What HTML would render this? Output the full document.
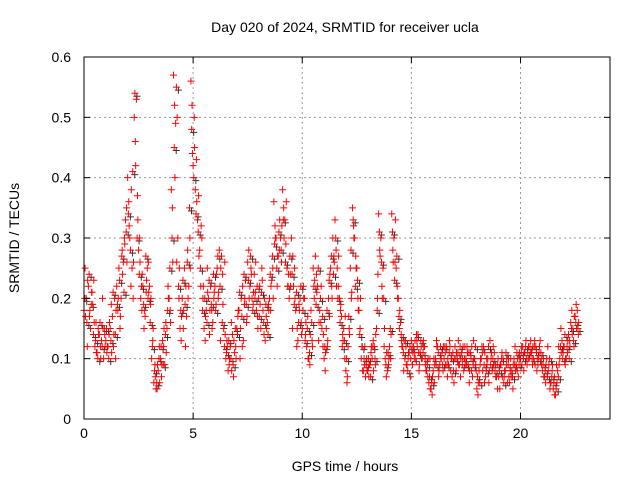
<!DOCTYPE html>
<html><head><meta charset="utf-8"><style>
html,body{margin:0;padding:0;background:#fff;}
svg{display:block;font-family:"Liberation Sans",sans-serif;}
</style></head><body>
<svg id="chart" width="640" height="480" viewBox="0 0 640 480">
<rect x="0" y="0" width="640" height="480" fill="#fff"/>
<text x="345" y="32" text-anchor="middle" font-size="14">Day 020 of 2024, SRMTID for receiver ucla</text>
<text x="345" y="471" text-anchor="middle" font-size="14">GPS time / hours</text>
<text transform="translate(19,238) rotate(-90)" text-anchor="middle" font-size="14">SRMTID / TECUs</text>
<g id="grid"></g><g id="marks"></g>
<rect x="84" y="57" width="526" height="362" fill="none" stroke="#000" stroke-width="1"/>
<g id="ticks"></g>
</svg>
<script>
const xTicks=[0,5,10,15,20];
const yTicks=[0,0.1,0.2,0.3,0.4,0.5,0.6];
const yTickLabels=["0","0.1","0.2","0.3","0.4","0.5","0.6"];
const hourStep=0.1;
const tecA=[0.18,0.2,0.22,0.15,0.19,0.12,0.11,0.14,0.13,0.1,0.13,0.12,0.15,0.17,0.2,0.22,0.25,0.2,0.26,0.33,
0.4,0.3,0.25,0.5,0.53,0.28,0.2,0.22,0.17,0.25,0.22,0.1,0.06,0.05,0.08,0.1,0.13,0.09,0.15,0.2,
0.38,0.57,0.49,0.3,0.15,0.2,0.25,0.17,0.22,0.56,0.42,0.38,0.33,0.28,0.3,0.15,0.18,0.2,0.22,0.16,
0.22,0.25,0.28,0.27,0.15,0.1,0.08,0.12,0.14,0.11,0.15,0.18,0.2,0.13,0.23,0.26,0.22,0.2,0.24,0.18,
0.2,0.15,0.18,0.13,0.16,0.2,0.23,0.36,0.3,0.27,0.3,0.38,0.33,0.25,0.2,0.3,0.22,0.18,0.13,0.2,
0.15,0.2,0.12,0.1,0.18,0.25,0.27,0.22,0.18,0.15,0.1,0.15,0.2,0.25,0.3,0.33,0.25,0.2,0.17,0.15,
0.08,0.12,0.25,0.35,0.3,0.25,0.18,0.1,0.08,0.07,0.08,0.09,0.1,0.12,0.15,0.34,0.3,0.25,0.1,0.08,
0.12,0.34,0.3,0.25,0.2,0.16,0.12,0.1,0.09,0.11,0.13,0.12,0.1,0.14,0.11,0.1,0.12,0.08,0.06,0.05,
0.08,0.1,0.12,0.09,0.11,0.1,0.12,0.09,0.08,0.11,0.12,0.1,0.09,0.11,0.08,0.1,0.09,0.11,0.07,0.1,
0.05,0.08,0.1,0.12,0.07,0.1,0.13,0.08,0.11,0.07,0.07,0.09,0.1,0.08,0.06,0.06,0.08,0.1,0.09,0.07,
0.1,0.12,0.11,0.09,0.1,0.11,0.1,0.12,0.09,0.13,0.08,0.07,0.1,0.09,0.06,0.05,0.04,0.08,0.1,0.13,
0.12,0.1,0.14,0.16,0.15,0.17,0.18];
const tecB=[0.25,0.12,0.17,0.21,0.23,0.16,0.15,0.12,0.2,0.14,0.11,0.14,0.19,0.12,0.1,0.18,0.15,0.28,0.3,0.35,
0.36,0.22,0.2,0.46,0.37,0.3,0.18,0.15,0.21,0.26,0.19,0.13,0.09,0.05,0.12,0.07,0.12,0.16,0.22,0.18,
0.35,0.52,0.26,0.2,0.13,0.15,0.12,0.28,0.3,0.52,0.5,0.43,0.37,0.22,0.2,0.13,0.25,0.14,0.18,0.2,
0.19,0.2,0.13,0.24,0.26,0.13,0.09,0.16,0.07,0.12,0.17,0.1,0.12,0.19,0.16,0.28,0.25,0.19,0.21,0.17,
0.22,0.25,0.14,0.17,0.19,0.18,0.25,0.32,0.22,0.28,0.26,0.35,0.29,0.22,0.24,0.15,0.25,0.12,0.19,0.16,
0.22,0.14,0.17,0.09,0.13,0.2,0.24,0.13,0.16,0.12,0.08,0.12,0.17,0.22,0.27,0.28,0.22,0.18,0.14,0.1,
0.06,0.15,0.2,0.32,0.27,0.2,0.15,0.12,0.09,0.1,0.07,0.11,0.13,0.09,0.2,0.28,0.22,0.12,0.07,0.09,
0.1,0.28,0.26,0.22,0.15,0.13,0.08,0.12,0.1,0.07,0.09,0.11,0.13,0.08,0.12,0.13,0.09,0.07,0.1,0.04,
0.06,0.13,0.07,0.1,0.08,0.11,0.07,0.13,0.1,0.06,0.08,0.13,0.07,0.1,0.12,0.12,0.06,0.08,0.13,0.09,
0.04,0.09,0.11,0.06,0.1,0.06,0.1,0.12,0.09,0.05,0.05,0.11,0.07,0.09,0.1,0.1,0.05,0.12,0.08,0.11,
0.12,0.08,0.13,0.1,0.11,0.09,0.13,0.08,0.11,0.1,0.1,0.06,0.12,0.05,0.08,0.07,0.09,0.12,0.15,0.11,
0.09,0.11,0.13,0.18,0.12,0.19,0.14];
const tecC=[0.2,0.16,0.24,0.19,0.14,0.13,0.1,0.16,0.12,0.15,0.15,0.1,0.13,0.21,0.14,0.19,0.23,0.27,0.21,0.31,
0.34,0.28,0.41,0.54,0.3,0.24,0.22,0.19,0.27,0.2,0.16,0.12,0.08,0.06,0.1,0.12,0.09,0.14,0.18,0.25,
0.3,0.45,0.55,0.22,0.18,0.23,0.19,0.26,0.35,0.48,0.4,0.34,0.31,0.25,0.18,0.2,0.16,0.23,0.19,0.24,
0.18,0.27,0.22,0.16,0.12,0.11,0.13,0.1,0.09,0.15,0.14,0.21,0.17,0.24,0.19,0.23,0.27,0.18,0.2,0.22,
0.17,0.21,0.16,0.19,0.14,0.24,0.27,0.29,0.25,0.31,0.28,0.33,0.26,0.22,0.27,0.24,0.19,0.21,0.16,0.22,
0.18,0.13,0.15,0.11,0.16,0.22,0.19,0.25,0.2,0.17,0.12,0.18,0.23,0.27,0.24,0.3,0.2,0.16,0.12,0.13,
0.1,0.17,0.28,0.33,0.22,0.23,0.14,0.12,0.1,0.09,0.1,0.07,0.12,0.1,0.18,0.31,0.26,0.2,0.09,0.11,
0.15,0.31,0.23,0.27,0.17,0.14,0.11,0.13,0.08,0.12,0.12,0.1,0.14,0.11,0.13,0.11,0.1,0.09,0.07,0.06,
0.1,0.09,0.11,0.12,0.09,0.12,0.09,0.11,0.1,0.08,0.1,0.11,0.12,0.09,0.1,0.09,0.11,0.1,0.09,0.12,
0.07,0.06,0.12,0.09,0.08,0.12,0.09,0.1,0.08,0.09,0.08,0.1,0.06,0.11,0.09,0.08,0.07,0.09,0.11,0.09,
0.11,0.1,0.12,0.11,0.12,0.1,0.12,0.11,0.1,0.11,0.09,0.08,0.07,0.1,0.07,0.06,0.05,0.07,0.12,0.1,
0.14,0.12,0.1,0.15,0.13,0.16,0.15];
const tecD=[0.17,0.23,0.18,0.21,0.16,0.11,0.14,0.1,0.15,0.12,0.12,0.16,0.11,0.14,0.18,0.2,0.17,0.24,0.29,0.26,
0.32,0.38,0.26,0.42,0.33,0.26,0.24,0.18,0.23,0.21,0.2,0.15,0.07,0.09,0.06,0.09,0.15,0.11,0.2,0.16,
0.26,0.4,0.5,0.25,0.17,0.18,0.22,0.2,0.25,0.44,0.45,0.36,0.27,0.32,0.22,0.17,0.21,0.18,0.15,0.21,
0.24,0.21,0.25,0.19,0.14,0.12,0.1,0.08,0.13,0.1,0.18,0.15,0.22,0.2,0.17,0.2,0.24,0.21,0.26,0.15,
0.19,0.23,0.2,0.15,0.18,0.22,0.2,0.3,0.27,0.33,0.32,0.3,0.36,0.24,0.22,0.27,0.2,0.15,0.18,0.14,
0.2,0.16,0.1,0.14,0.12,0.23,0.21,0.16,0.22,0.14,0.11,0.13,0.24,0.2,0.26,0.22,0.27,0.19,0.13,0.17,
0.07,0.14,0.21,0.3,0.25,0.18,0.2,0.08,0.12,0.08,0.09,0.12,0.08,0.14,0.24,0.27,0.2,0.15,0.11,0.1,
0.14,0.26,0.33,0.2,0.18,0.12,0.13,0.09,0.11,0.1,0.11,0.13,0.12,0.09,0.1,0.12,0.08,0.1,0.05,0.07,
0.09,0.12,0.08,0.1,0.12,0.09,0.1,0.12,0.07,0.1,0.11,0.09,0.1,0.12,0.09,0.11,0.08,0.12,0.1,0.08,
0.06,0.1,0.08,0.11,0.09,0.08,0.11,0.09,0.07,0.1,0.09,0.07,0.08,0.1,0.07,0.07,0.09,0.08,0.1,0.1,
0.09,0.11,0.1,0.12,0.13,0.12,0.09,0.1,0.12,0.09,0.07,0.09,0.08,0.06,0.09,0.04,0.06,0.09,0.11,0.12,
0.1,0.13,0.12,0.14,0.17,0.15,0.16];
const NS="http://www.w3.org/2000/svg";
const X=h=>84+h*(526/24.1);
const Y=v=>419-v*(362/0.6);
function mk(tag,attrs,parent){const e=document.createElementNS(NS,tag);for(const k in attrs)e.setAttribute(k,attrs[k]);parent.appendChild(e);return e;}
const grid=document.getElementById('grid'),ticks=document.getElementById('ticks'),marks=document.getElementById('marks');
xTicks.forEach(t=>{const x=X(t);
 if(t>0){const g=mk('line',{x1:x,x2:x,y1:57,y2:419,stroke:'#999','stroke-dasharray':'2,3'},grid);
 
 }
 mk('line',{x1:x,x2:x,y1:419,y2:413,stroke:'#000'},ticks);mk('line',{x1:x,x2:x,y1:57,y2:63,stroke:'#000'},ticks);
 const l=mk('text',{x:x,y:438,'text-anchor':'middle','font-size':14},ticks);l.textContent=t;
 
 
});
yTicks.forEach((t,i)=>{const y=Y(t);
 if(i>0&&i<yTicks.length-1){const g=mk('line',{x1:84,x2:610,y1:y,y2:y,stroke:'#999','stroke-dasharray':'2,3'},grid);
 
 }
 mk('line',{x1:84,x2:90,y1:y,y2:y,stroke:'#000'},ticks);mk('line',{x1:604,x2:610,y1:y,y2:y,stroke:'#000'},ticks);
 const l=mk('text',{x:71,y:y+5,'text-anchor':'end','font-size':14},ticks);l.textContent=yTickLabels[i];
 
 
});
function plus(x,y,col,name){const p=mk('path',{d:`M${x-3.5},${y}h7M${x},${y-3.5}v7`,stroke:col,'stroke-width':1,fill:'none'},marks);
 
 }
tecC.forEach((v,i)=>plus(X(i*hourStep+0.033)+2,Y(v)+3,'#333','black-point'));
tecA.forEach((v,i)=>plus(X(i*hourStep),Y(v),'#f00','red-point'));
tecB.forEach((v,i)=>plus(X(i*hourStep+0.05),Y(v),'#f00','red-point'));
tecC.forEach((v,i)=>plus(X(i*hourStep+0.033),Y(v),'#f00','red-point'));
tecD.forEach((v,i)=>plus(X(i*hourStep+0.067),Y(v),'#f00','red-point'));
</script>
</body></html>
